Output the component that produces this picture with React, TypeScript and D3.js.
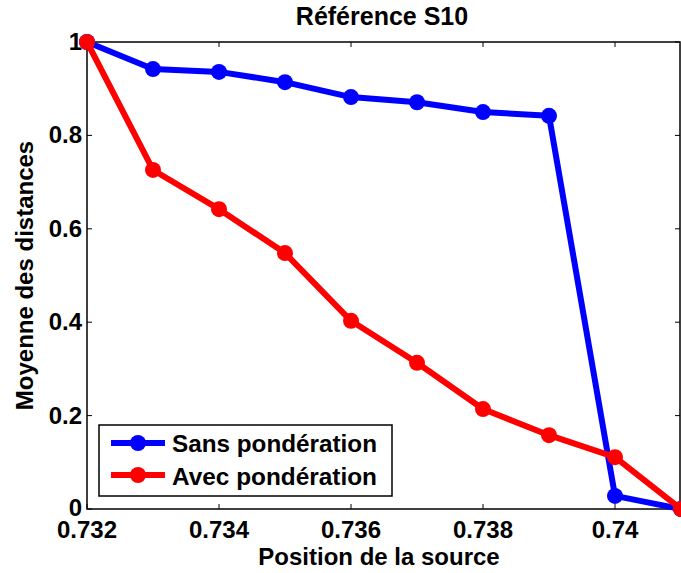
import React from "react";
import * as d3 from "d3";

const positions = [0.732, 0.733, 0.734, 0.735, 0.736, 0.737, 0.738, 0.739, 0.74, 0.741];
const sansPonderation = [1.0, 0.942, 0.936, 0.914, 0.882, 0.871, 0.85, 0.842, 0.028, 0.0];
const avecPonderation = [1.0, 0.726, 0.642, 0.548, 0.403, 0.313, 0.214, 0.158, 0.111, 0.0];
const xTicks = [0.732, 0.734, 0.736, 0.738, 0.74];
const xTickLabels = ["0.732", "0.734", "0.736", "0.738", "0.74"];
const yTicks = [0, 0.2, 0.4, 0.6, 0.8, 1];
const yTickLabels = ["0", "0.2", "0.4", "0.6", "0.8", "1"];
const seriesNames = ["Sans pondération", "Avec pondération"];
const seriesColors = ["#0000ff", "#ff0000"];

const W = 681;
const H = 573;
const L = 87, R = 681, T = 42, B = 509;

export default function App() {
  const x = d3.scaleLinear().domain([0.732, 0.741]).range([L, R]);
  const y = d3.scaleLinear().domain([0, 1]).range([B, T]);
  const line = d3.line<number>().x((_, i) => x(positions[i])).y((v) => y(v));
  const series = [sansPonderation, avecPonderation];
  const font = "'Liberation Sans', Arial, sans-serif";
  const tickLen = 5;
  const fs = 24;
  return (
    <svg width={W} height={H} style={{ position: "absolute", left: 0, top: 0, background: "#fff" }} fontFamily={font}>
      <rect x={0} y={0} width={W} height={H} fill="#fff" />
      <rect x={L} y={T} width={R - L - 1} height={B - T} fill="none" stroke="#000" strokeWidth={1.5} />
      {xTicks.map((t, i) => (
        <g key={"xt" + i}>
          <line x1={x(t)} x2={x(t)} y1={B} y2={B - tickLen} stroke="#000" strokeWidth={1} />
          <line x1={x(t)} x2={x(t)} y1={T} y2={T + tickLen} stroke="#000" strokeWidth={1} />
          <text x={x(t)} y={538} textAnchor="middle" fontSize={fs} fontWeight="bold">{xTickLabels[i]}</text>
        </g>
      ))}
      {yTicks.map((t, i) => (
        <g key={"yt" + i}>
          <line x1={L} x2={L + tickLen} y1={y(t)} y2={y(t)} stroke="#000" strokeWidth={1} />
          <line x1={R - 1} x2={R - 1 - tickLen} y1={y(t)} y2={y(t)} stroke="#000" strokeWidth={1} />
          <text x={82} y={y(t) + (t === 0 ? 6.5 : 8)} textAnchor="end" fontSize={fs} fontWeight="bold">{yTickLabels[i]}</text>
        </g>
      ))}
      {series.map((s, k) => (
        <g key={"s" + k}>
          <path d={line(s) || ""} fill="none" stroke={seriesColors[k]} strokeWidth={6} strokeLinejoin="round" />
          {s.map((v, i) => (
            <circle key={i} cx={x(positions[i])} cy={y(v)} r={8} fill={seriesColors[k]} />
          ))}
        </g>
      ))}
      <rect x={99} y={425} width={293} height={71} fill="#fff" stroke="#000" strokeWidth={1.5} />
      {seriesNames.map((n, k) => (
        <g key={"l" + k}>
          <line x1={111} x2={165} y1={443 + k * 32} y2={443 + k * 32} stroke={seriesColors[k]} strokeWidth={6} />
          <circle cx={138} cy={443 + k * 32} r={8} fill={seriesColors[k]} />
          <text x={172} y={452 + k * 33} fontSize={fs} fontWeight="bold" textLength={205} lengthAdjust="spacingAndGlyphs">{n}</text>
        </g>
      ))}
      <text x={382} y={25} textAnchor="middle" fontSize={25} fontWeight="bold">Référence S10</text>
      <text x={379} y={565} textAnchor="middle" fontSize={fs} fontWeight="bold">Position de la source</text>
      <text transform={`translate(33, ${275.5}) rotate(-90)`} textAnchor="middle" fontSize={fs} fontWeight="bold">Moyenne des distances</text>
    </svg>
  );
}
